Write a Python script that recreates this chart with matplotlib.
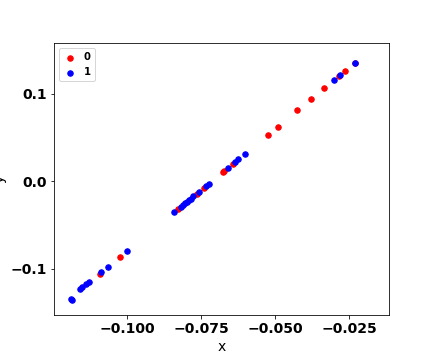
import matplotlib
matplotlib.use('Agg')
import matplotlib.pyplot as plt

# classe 0 (vermelho)
x0 = [-0.10917, -0.10238, -0.08268, -0.07643, -0.07418, -0.06773, -0.06726,
      -0.06433, -0.05245, -0.04905, -0.04260, -0.03784, -0.03342, -0.02853,
      -0.02629, -0.02289]
y0 = [-0.1062, -0.0864, -0.0316, -0.0145, -0.0080, 0.0103, 0.0114,
      0.0197, 0.0525, 0.0616, 0.0811, 0.0936, 0.1062, 0.1202,
      0.1256, 0.1347]

# classe 1 (azul)
x1 = [-0.11868, -0.11900, -0.11583, -0.11515, -0.11379, -0.11291, -0.10883,
      -0.10645, -0.10000, -0.08404, -0.08176, -0.08108, -0.08040, -0.07972,
      -0.07904, -0.07836, -0.07758, -0.07588, -0.07337, -0.07249, -0.06603,
      -0.06342, -0.06250, -0.06026, -0.03003, -0.02799, -0.02289]
y1 = [-0.1363, -0.1350, -0.1233, -0.1210, -0.1172, -0.1150, -0.1039,
      -0.0978, -0.0799, -0.0354, -0.0290, -0.0271, -0.0253, -0.0236,
      -0.0219, -0.0202, -0.0168, -0.0122, -0.0050, -0.0027, 0.0152,
      0.0224, 0.0251, 0.0312, 0.1153, 0.1210, 0.1347]

fig = plt.figure(figsize=(6, 5), dpi=72)
ax = fig.add_subplot(111)
fig.subplots_adjust(left=0.125, right=0.9, top=0.88, bottom=0.125)

ax.scatter(x0, y0, color='red', s=30, label='0')
ax.scatter(x1, y1, color='blue', s=30, label='1')

ax.set_xlim(-0.1247, -0.0116)
ax.set_ylim(-0.153, 0.1577)
ax.set_xticks([-0.100, -0.075, -0.050, -0.025])
ax.set_yticks([-0.1, 0.0, 0.1])

ax.set_xlabel('x', fontsize=14)
ax.set_ylabel('y', fontsize=14)
plt.xticks(fontsize=14, fontweight='bold')
plt.yticks(fontsize=14, fontweight='bold')

ax.legend(loc='upper left', prop={'size': 10, 'weight': 'bold'},
          handlelength=1.4, handletextpad=0.7)

plt.savefig('out.png', dpi=72)
